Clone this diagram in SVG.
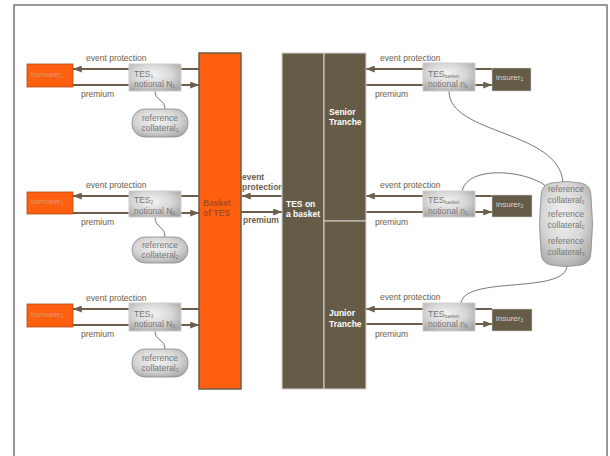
<svg xmlns="http://www.w3.org/2000/svg" width="610" height="456" viewBox="0 0 610 456">
<defs>
<radialGradient id="gGray" cx="45%" cy="40%" r="70%">
<stop offset="0" stop-color="#f4f4f4"/>
<stop offset="0.55" stop-color="#d6d6d6"/>
<stop offset="1" stop-color="#a4a4a4"/>
</radialGradient>
<marker id="ah" viewBox="0 0 10 8" refX="10" refY="4" markerWidth="9" markerHeight="7" markerUnits="userSpaceOnUse" orient="auto">
<path d="M0,0 L10,4 L0,8 Z" fill="#6b5e4a"/>
</marker>
<style>
text{font-family:"Liberation Sans",Arial,sans-serif;font-size:8.5px}
.lbl{fill:#6b5e4a}
.blbl{fill:#6b5e4a;font-weight:bold}
.bt{fill:#a24d22;font-weight:bold}
.wb{fill:#ffffff;font-weight:bold}
.gtx{fill:#767676}
.otx{fill:#e09a72;font-size:7.5px}
.itx{fill:#dcd6cc;font-size:8px}
.sub{font-size:5px}
.orange{fill:#ff5f0f;stroke:#b04a14;stroke-width:0.8}
.basket{fill:#ff5f0f;stroke:#6b5e4a;stroke-width:1.5}
.brown{fill:#665b47;stroke:#d4d4d4;stroke-width:1}
.ins{fill:#665b47;stroke:#d4d4d4;stroke-width:0.5}
.gbox{fill:url(#gGray);stroke:#cfcfcf;stroke-width:1}
.coll{fill:url(#gGray);stroke:#8c8c8c;stroke-width:0.8}
.arr{stroke:#6b5e4a;stroke-width:2;fill:none;marker-end:url(#ah)}
.curve{stroke:#555;stroke-width:0.8;fill:none}
</style>
</defs>
<rect x="0" y="0" width="610" height="456" fill="#ffffff"/>
<rect x="14" y="5" width="593" height="470" fill="#ffffff" stroke="#777777" stroke-width="1.5"/>

<g id="connectors">
<line class="arr" x1="199" y1="69" x2="73" y2="69"/>
<line class="arr" x1="73" y1="85" x2="199" y2="85"/>
<line class="arr" x1="199" y1="196" x2="73" y2="196"/>
<line class="arr" x1="73" y1="213" x2="199" y2="213"/>
<line class="arr" x1="199" y1="309" x2="73" y2="309"/>
<line class="arr" x1="73" y1="325" x2="199" y2="325"/>
<line class="arr" x1="282" y1="196" x2="242" y2="196"/>
<line class="arr" x1="241" y1="212" x2="282" y2="212"/>
<line class="arr" x1="492" y1="69" x2="366" y2="69"/>
<line class="arr" x1="366" y1="85" x2="492" y2="85"/>
<line class="arr" x1="492" y1="196" x2="366" y2="196"/>
<line class="arr" x1="366" y1="212" x2="492" y2="212"/>
<line class="arr" x1="492" y1="309" x2="366" y2="309"/>
<line class="arr" x1="366" y1="324" x2="492" y2="324"/>
<path class="curve" d="M155,91 C155,101 165,99 165,109"/>
<path class="curve" d="M155,217 C155,228 165,226 165,237"/>
<path class="curve" d="M155,331 C155,341 165,339 165,349"/>
<path class="curve" d="M449,91 C449,135 560,130 563,183"/>
<path class="curve" d="M462,191 C468,165 525,170 546,186"/>
<path class="curve" d="M567,265 C567,295 465,275 461,303"/>
<text class="lbl" x="86" y="61">event protection</text>
<text class="lbl" x="81" y="97">premium</text>
<text class="lbl" x="86" y="188">event protection</text>
<text class="lbl" x="81" y="225">premium</text>
<text class="lbl" x="86" y="301">event protection</text>
<text class="lbl" x="81" y="337">premium</text>
<text class="blbl" x="242" y="180">event</text>
<text class="blbl" x="242" y="190">protection</text>
<text class="blbl" x="243" y="223">premium</text>
<text class="lbl" x="380" y="61">event protection</text>
<text class="lbl" x="375" y="97">premium</text>
<text class="lbl" x="380" y="188">event protection</text>
<text class="lbl" x="375" y="225">premium</text>
<text class="lbl" x="380" y="300">event protection</text>
<text class="lbl" x="375" y="337">premium</text>
</g>

<g id="borrower1"><rect class="orange" x="27" y="64" width="46" height="23"/><text class="otx" x="31" y="77">borrower<tspan class="sub" dy="1">1</tspan></text></g>
<g id="borrower2"><rect class="orange" x="27" y="192" width="46" height="22"/><text class="otx" x="31" y="204">borrower<tspan class="sub" dy="1">2</tspan></text></g>
<g id="borrower3"><rect class="orange" x="27" y="304" width="46" height="23"/><text class="otx" x="31" y="317">borrower<tspan class="sub" dy="1">3</tspan></text></g>

<g id="tes1"><rect class="gbox" x="129" y="64" width="52" height="27"/><text class="gtx" x="134" y="76.5">TES<tspan class="sub" dy="1">1</tspan></text><text class="gtx" x="134" y="86.5">notional N<tspan class="sub" dy="1">1</tspan></text></g>
<g id="tes2"><rect class="gbox" x="129" y="191" width="52" height="26"/><text class="gtx" x="134" y="203">TES<tspan class="sub" dy="1">2</tspan></text><text class="gtx" x="134" y="214">notional N<tspan class="sub" dy="1">2</tspan></text></g>
<g id="tes3"><rect class="gbox" x="129" y="303" width="52" height="28"/><text class="gtx" x="134" y="316.5">TES<tspan class="sub" dy="1">3</tspan></text><text class="gtx" x="134" y="326.5">notional N<tspan class="sub" dy="1">3</tspan></text></g>

<g id="collateral1"><rect class="coll" x="132" y="109" width="56" height="28" rx="13"/><text class="gtx" x="160" y="121" text-anchor="middle">reference</text><text class="gtx" x="160" y="131" text-anchor="middle">collateral<tspan class="sub" dy="1">1</tspan></text></g>
<g id="collateral2"><rect class="coll" x="132" y="237" width="56" height="26" rx="13"/><text class="gtx" x="160" y="248" text-anchor="middle">reference</text><text class="gtx" x="160" y="258" text-anchor="middle">collateral<tspan class="sub" dy="1">2</tspan></text></g>
<g id="collateral3"><rect class="coll" x="132" y="349" width="56" height="28" rx="13"/><text class="gtx" x="160" y="361" text-anchor="middle">reference</text><text class="gtx" x="160" y="371" text-anchor="middle">collateral<tspan class="sub" dy="1">3</tspan></text></g>

<g id="basket"><rect class="basket" x="199" y="53" width="42" height="336"/><text class="bt" x="203" y="206">Basket</text><text class="bt" x="203" y="216">of TES</text></g>

<g id="tes-basket"><rect class="brown" x="282" y="53" width="42" height="336"/><text class="wb" x="286" y="207">TES on</text><text class="wb" x="286" y="217">a basket</text></g>
<g id="senior"><rect class="brown" x="324" y="53" width="42" height="168"/><text class="wb" x="329" y="115">Senior</text><text class="wb" x="329" y="125">Tranche</text></g>
<g id="junior"><rect class="brown" x="324" y="221" width="42" height="168"/><text class="wb" x="329" y="316">Junior</text><text class="wb" x="329" y="327">Tranche</text></g>

<g id="tesb1"><rect class="gbox" x="423" y="63" width="52" height="28"/><text class="gtx" x="428" y="76.5">TES<tspan class="sub" dy="1">basket</tspan></text><text class="gtx" x="428" y="86.5">notional n<tspan class="sub" dy="1">1</tspan></text></g>
<g id="tesb2"><rect class="gbox" x="423" y="191" width="52" height="26"/><text class="gtx" x="428" y="202.5">TES<tspan class="sub" dy="1">basket</tspan></text><text class="gtx" x="428" y="214">notional n<tspan class="sub" dy="1">2</tspan></text></g>
<g id="tesb3"><rect class="gbox" x="423" y="303" width="52" height="28"/><text class="gtx" x="428" y="316.5">TES<tspan class="sub" dy="1">basket</tspan></text><text class="gtx" x="428" y="326.5">notional n<tspan class="sub" dy="1">3</tspan></text></g>

<g id="insurer1"><rect class="ins" x="492" y="68" width="39" height="23"/><text class="itx" x="496" y="80">insurer<tspan class="sub" dy="1">1</tspan></text></g>
<g id="insurer2"><rect class="ins" x="492" y="195" width="40" height="22"/><text class="itx" x="496" y="207">insurer<tspan class="sub" dy="1">2</tspan></text></g>
<g id="insurer3"><rect class="ins" x="492" y="309" width="40" height="22"/><text class="itx" x="496" y="321">insurer<tspan class="sub" dy="1">3</tspan></text></g>

<g id="collateral-pool"><path class="coll" d="M551,183 Q566,180 581,183 Q591,185 591,196 Q594,224 591,252 Q591,263 581,265 Q566,268 551,265 Q541,263 541,252 Q538,224 541,196 Q541,185 551,183 Z"/>
<text class="gtx" x="566" y="192" text-anchor="middle">reference</text><text class="gtx" x="566" y="203" text-anchor="middle">collateral<tspan class="sub" dy="1">1</tspan></text>
<text class="gtx" x="566" y="217" text-anchor="middle">reference</text><text class="gtx" x="566" y="228" text-anchor="middle">collateral<tspan class="sub" dy="1">2</tspan></text>
<text class="gtx" x="566" y="244" text-anchor="middle">reference</text><text class="gtx" x="566" y="255" text-anchor="middle">collateral<tspan class="sub" dy="1">3</tspan></text></g>
</svg>
